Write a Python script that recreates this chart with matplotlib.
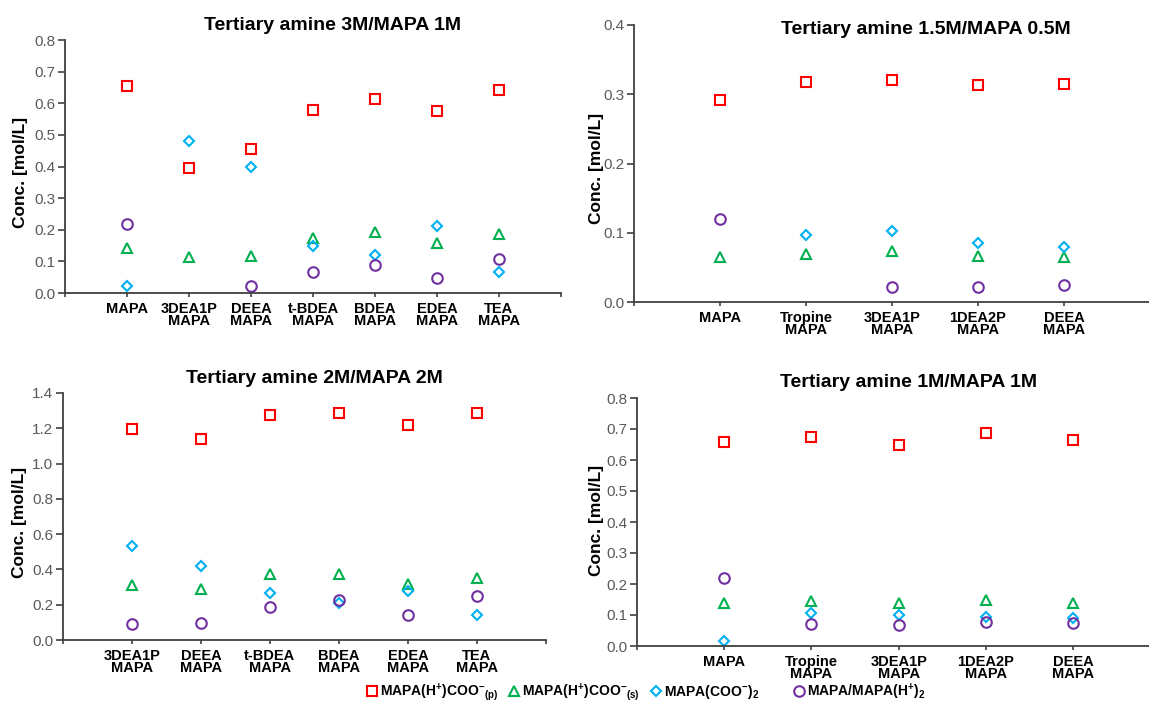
import numpy as np
import matplotlib
matplotlib.use("Agg")
import matplotlib.pyplot as plt
from matplotlib.lines import Line2D

plt.rcParams['font.family'] = ['Liberation Sans', 'DejaVu Sans']
plt.rcParams['mathtext.fontset'] = 'custom'
plt.rcParams['mathtext.rm'] = 'Liberation Sans:bold'
plt.rcParams['mathtext.bf'] = 'Liberation Sans:bold'
plt.rcParams['mathtext.default'] = 'bf'

nan = np.nan

# Tertiary amine 3M / MAPA 1M
cat_a = ["MAPA", "3DEA1P\nMAPA", "DEEA\nMAPA", "t-BDEA\nMAPA", "BDEA\nMAPA", "EDEA\nMAPA", "TEA\nMAPA"]
red_a = [0.656, 0.396, 0.455, 0.578, 0.612, 0.575, 0.642]
green_a = [0.141, 0.113, 0.118, 0.175, 0.192, 0.159, 0.185]
blue_a = [0.021, 0.482, 0.399, 0.149, 0.121, 0.213, 0.067]
purple_a = [0.219, nan, 0.021, 0.065, 0.089, 0.046, 0.109]

# Tertiary amine 1.5M / MAPA 0.5M
cat_b = ["MAPA", "Tropine\nMAPA", "3DEA1P\nMAPA", "1DEA2P\nMAPA", "DEEA\nMAPA"]
red_b = [0.292, 0.317, 0.320, 0.3135, 0.3145]
green_b = [0.065, 0.069, 0.073, 0.066, 0.065]
blue_b = [nan, 0.097, 0.102, 0.085, 0.079]
purple_b = [0.120, nan, 0.022, 0.021, 0.025]

# Tertiary amine 2M / MAPA 2M
cat_c = ["3DEA1P\nMAPA", "DEEA\nMAPA", "t-BDEA\nMAPA", "BDEA\nMAPA", "EDEA\nMAPA", "TEA\nMAPA"]
red_c = [1.197, 1.140, 1.276, 1.286, 1.218, 1.286]
green_c = [0.313, 0.290, 0.373, 0.373, 0.319, 0.351]
blue_c = [0.533, 0.417, 0.266, 0.211, 0.279, 0.143]
purple_c = [0.090, 0.094, 0.187, 0.226, 0.139, 0.247]

# Tertiary amine 1M / MAPA 1M
cat_d = ["MAPA", "Tropine\nMAPA", "3DEA1P\nMAPA", "1DEA2P\nMAPA", "DEEA\nMAPA"]
red_d = [0.657, 0.674, 0.647, 0.686, 0.666]
green_d = [0.138, 0.144, 0.138, 0.149, 0.140]
blue_d = [0.017, 0.108, 0.100, 0.093, 0.089]
purple_d = [0.218, 0.070, 0.068, 0.079, 0.073]

labels = [r"MAPA(H$^{+}$)COO$^{-}{}_{(p)}$",
          r"MAPA(H$^{+}$)COO$^{-}{}_{(s)}$",
          r"MAPA(COO$^{-}$)$_{2}$",
          r"MAPA/MAPA(H$^{+}$)$_{2}$"]

# marker styles for the four species
styles = [dict(marker='s', ms=6.8, mec='#FF0000', mew=1.5),
          dict(marker='^', ms=7.2, mec='#00B050', mew=1.5),
          dict(marker='D', ms=4.8, mec='#00B0F0', mew=1.5),
          dict(marker='o', ms=7.6, mec='#7030A0', mew=1.5)]

fig = plt.figure(figsize=(11.49, 7.24), dpi=100)

W, H = 1149.0, 724.0


def panel(rect_px, cats, series, xmax, ymax, ystep, title, title_xy, ylab_xy):
    left, right, top, bottom = rect_px
    ax = fig.add_axes([left / W, 1 - bottom / H, (right - left) / W, (bottom - top) / H])
    x = np.arange(1, len(cats) + 1)
    for vals, st in zip(series, styles):
        ax.plot(x, vals, linestyle='none', mfc='none', clip_on=False, **st)
    ax.set_xlim(0, xmax)
    ax.set_ylim(0, ymax)
    nt = int(np.floor(xmax))
    ax.set_xticks(np.arange(0, nt + 1))
    ax.set_xticklabels([""] + cats + [""] * (nt - len(cats)),
                       fontweight='bold', fontsize=10.5, linespacing=0.82)
    yt = np.arange(0, ymax + ystep / 2, ystep)
    ax.set_yticks(yt)
    ax.set_yticklabels(["%.1f" % v for v in yt], fontsize=11, color='#595959')
    for s in ['top', 'right']:
        ax.spines[s].set_visible(False)
    for s in ['left', 'bottom']:
        ax.spines[s].set_color('#404040')
        ax.spines[s].set_linewidth(1.3)
    ax.tick_params(axis='y', direction='out', length=5, width=1.2, color='#404040', pad=2)
    ax.tick_params(axis='x', direction='out', length=3, width=1.2, color='#404040', pad=3.5)
    fig.text(title_xy[0] / W, 1 - title_xy[1] / H, title, ha='center', va='center',
             fontsize=14, fontweight='bold')
    fig.text(ylab_xy[0] / W, 1 - ylab_xy[1] / H, "Conc. [mol/L]", rotation=90,
             ha='center', va='center', fontsize=12.5, fontweight='bold')
    return ax


panel((65, 561, 40, 293), cat_a, [red_a, green_a, blue_a, purple_a], 8, 0.8, 0.1,
      "Tertiary amine 3M/MAPA 1M", (332, 25), (21, 172))
panel((634, 1150, 25, 302), cat_b, [red_b, green_b, blue_b, purple_b], 6, 0.4, 0.1,
      "Tertiary amine 1.5M/MAPA 0.5M", (926, 29), (596, 168))
panel((63, 546, 393, 640), cat_c, [red_c, green_c, blue_c, purple_c], 7, 1.4, 0.2,
      "Tertiary amine 2M/MAPA 2M", (314, 378), (20, 522))
panel((637, 1149, 398, 646), cat_d, [red_d, green_d, blue_d, purple_d], 5.87, 0.8, 0.1,
      "Tertiary amine 1M/MAPA 1M", (908, 382), (596, 520))

# legend along the bottom, equal-width columns like the original
leg_x = [372, 514, 656, 799]
leg_y = 691
for lx, lab, st in zip(leg_x, labels, styles):
    fig.add_artist(Line2D([lx / W], [1 - leg_y / H], transform=fig.transFigure,
                          linestyle='none', mfc='none', **st))
    fig.text((lx + 8) / W, 1 - (leg_y + 5) / H, lab, ha='left', va='baseline',
             fontsize=10, fontweight='bold')

fig.savefig("out.png", dpi=100)
